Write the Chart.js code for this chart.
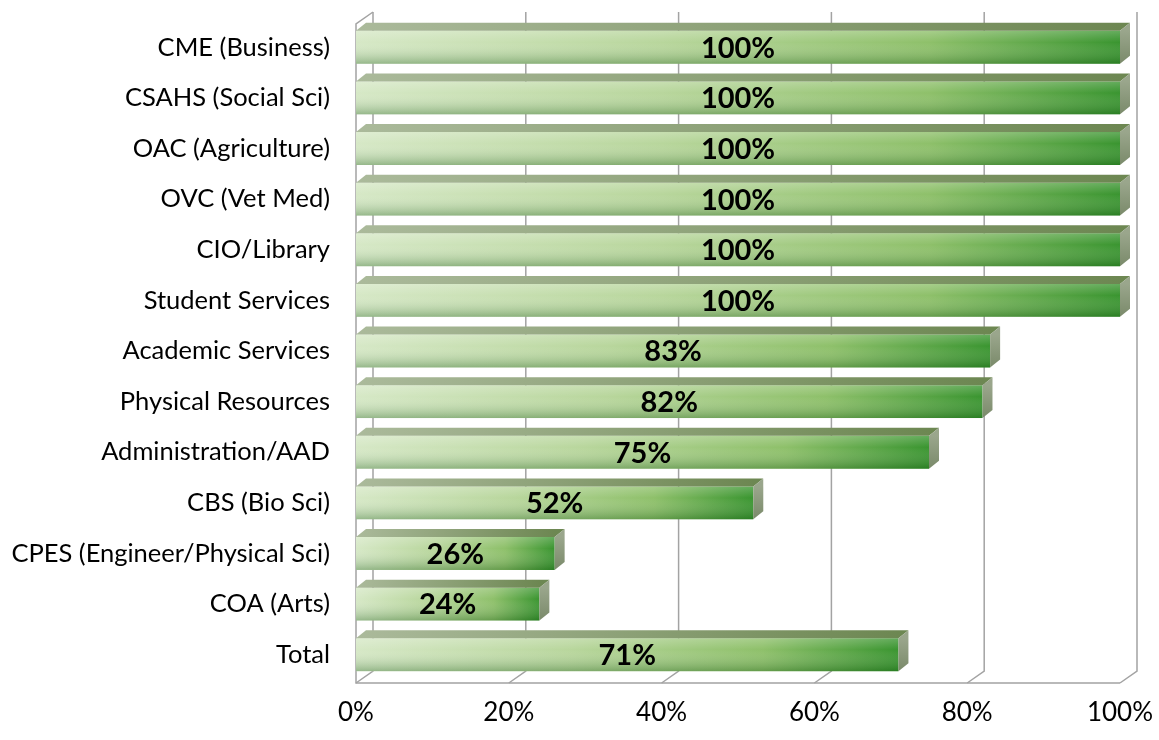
<!DOCTYPE html>
<html>
<head>
<meta charset="utf-8">
<script src="https://cdn.jsdelivr.net/npm/chart.js@4.4.1/dist/chart.umd.min.js"></script>
<style>
    html, body { margin: 0; padding: 0; background: #ffffff; }
    #wrap { width: 1159px; height: 740px; }
</style>
</head>
<body>
<div id="wrap"><canvas id="chart" width="1159" height="740"></canvas></div>
<script>
const categories = [
    "CME (Business)",
    "CSAHS (Social Sci)",
    "OAC (Agriculture)",
    "OVC (Vet Med)",
    "CIO/Library",
    "Student Services",
    "Academic Services",
    "Physical Resources",
    "Administration/AAD",
    "CBS (Bio Sci)",
    "CPES (Engineer/Physical Sci)",
    "COA (Arts)",
    "Total"
];
const completion = [100, 100, 100, 100, 100, 100, 83, 82, 75, 52, 26, 24, 71];
const tickValues = [0, 20, 40, 60, 80, 100];

// 3d look
const WALL_DX = 17, WALL_DY = 12;
const BAR_DX = 10, BAR_DY = 8;
const FONT = "Lato";

function frontFill(context) {
    const chart = context.chart;
    if (!chart.chartArea) return "#9ccb78";
    const xs = chart.scales.x;
    const x0 = xs.getPixelForValue(0);
    const x1 = xs.getPixelForValue(context.raw);
    const g = chart.ctx.createLinearGradient(x0, 0, x1, 0);
    g.addColorStop(0, "#d6e8c6");
    g.addColorStop(0.4, "#b8d69c");
    g.addColorStop(0.75, "#8ec06a");
    g.addColorStop(1, "#3a9530");
    return g;
}

const wallPlugin = {
    id: "wall3d",
    beforeDatasetsDraw(chart) {
        const { ctx, chartArea: a, scales: { x } } = chart;
        const floorY = a.bottom + 3;
        const backFloorY = floorY - WALL_DY;
        const topY = a.top - 10;
        ctx.save();
        ctx.strokeStyle = "#a3a3a3";
        ctx.lineWidth = 1.5;
        tickValues.forEach(v => {
            const fx = x.getPixelForValue(v);
            const bx = fx + WALL_DX;
            ctx.beginPath();
            ctx.moveTo(bx, topY);
            ctx.lineTo(bx, backFloorY);
            ctx.lineTo(fx, floorY);
            ctx.stroke();
        });
        const x0 = x.getPixelForValue(tickValues[0]);
        const xN = x.getPixelForValue(tickValues[tickValues.length - 1]);
        ctx.beginPath();
        ctx.moveTo(xN, floorY);
        ctx.lineTo(x0, floorY);
        ctx.lineTo(x0, topY + WALL_DY);
        ctx.lineTo(x0 + WALL_DX, topY);
        ctx.stroke();
        ctx.restore();
    },
    afterDatasetsDraw(chart) {
        const { ctx } = chart;
        const meta = chart.getDatasetMeta(0);
        ctx.save();
        meta.data.forEach((bar, i) => {
            const p = bar.getProps(["x", "y", "base", "height"], true);
            const top = p.y - p.height / 2;
            const bottom = p.y + p.height / 2;
            const left = p.base, right = p.x;

            // shading on the front face
            const sh = ctx.createLinearGradient(0, top, 0, bottom);
            sh.addColorStop(0, "rgba(255,255,255,0.22)");
            sh.addColorStop(0.35, "rgba(255,255,255,0)");
            sh.addColorStop(1, "rgba(0,70,0,0.3)");
            ctx.fillStyle = sh;
            ctx.fillRect(left, top, right - left, bottom - top);

            // top face
            const tg = ctx.createLinearGradient(left, 0, right, 0);
            tg.addColorStop(0, "#abba9b");
            tg.addColorStop(1, "#6d8752");
            ctx.fillStyle = tg;
            ctx.beginPath();
            ctx.moveTo(left, top);
            ctx.lineTo(left + BAR_DX, top - BAR_DY);
            ctx.lineTo(right + BAR_DX, top - BAR_DY);
            ctx.lineTo(right, top);
            ctx.closePath();
            ctx.fill();

            // end face
            const sg = ctx.createLinearGradient(0, top, 0, bottom);
            sg.addColorStop(0, "#9aa68c");
            sg.addColorStop(1, "#7a8a6a");
            ctx.fillStyle = sg;
            ctx.beginPath();
            ctx.moveTo(right, top);
            ctx.lineTo(right + BAR_DX, top - BAR_DY);
            ctx.lineTo(right + BAR_DX, bottom - BAR_DY);
            ctx.lineTo(right, bottom);
            ctx.closePath();
            ctx.fill();

            // value label
            ctx.fillStyle = "#000000";
            ctx.font = `bold 29px ${FONT}`;
            ctx.textAlign = "center";
            ctx.textBaseline = "middle";
            ctx.fillText(`${completion[i]}%`, (left + right) / 2, p.y + 1);
        });
        ctx.restore();
    }
};

new Chart(document.getElementById("chart"), {
    type: "bar",
    data: {
        labels: categories,
        datasets: [{
            data: completion,
            backgroundColor: frontFill,
            borderWidth: 0,
            barPercentage: 0.65,
            categoryPercentage: 1
        }]
    },
    options: {
        indexAxis: "y",
        responsive: false,
        animation: false,
        layout: { padding: { top: 22, right: 39, left: 0, bottom: 0 } },
        plugins: { legend: { display: false }, tooltip: { enabled: false } },
        scales: {
            x: {
                min: 0,
                max: 100,
                afterBuildTicks(scale) { scale.ticks = tickValues.map(v => ({ value: v })); },
                afterFit(scale) { scale.height = 60; scale.paddingLeft = 0; scale.paddingRight = 0; },
                grid: { display: false, drawTicks: false },
                border: { display: false },
                ticks: {
                    padding: 17,
                    color: "#000000",
                    font: { family: FONT, size: 26 },
                    callback: v => `${v}%`
                }
            },
            y: {
                afterFit(scale) { scale.width = 356; scale.paddingTop = 0; scale.paddingBottom = 0; },
                grid: { display: false, drawTicks: false },
                border: { display: false },
                ticks: {
                    autoSkip: false,
                    padding: 26,
                    color: "#000000",
                    font: { family: FONT, size: 25.5 }
                }
            }
        }
    },
    plugins: [wallPlugin]
});
</script>
</body>
</html>
